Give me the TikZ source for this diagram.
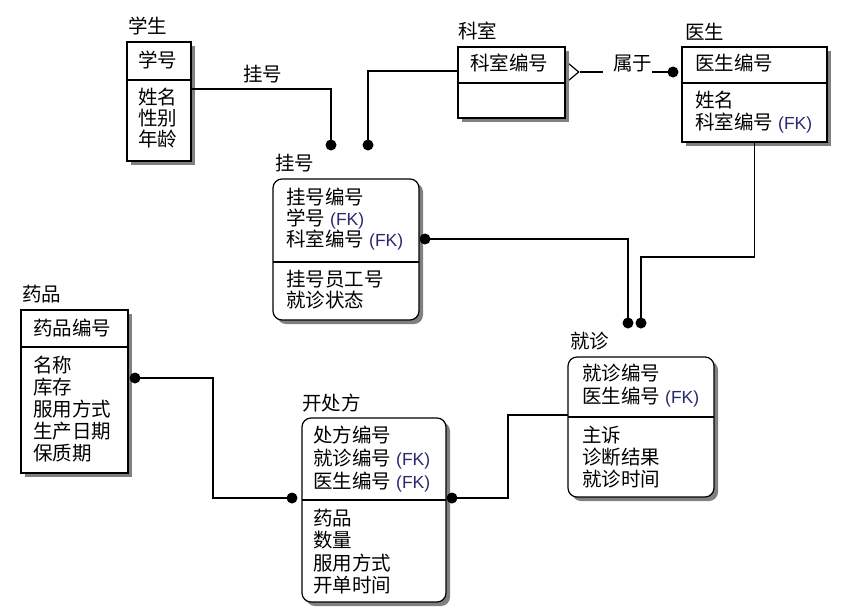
\documentclass[tikz,border=0pt]{standalone}
\usepackage{fontspec}
\newfontfamily\cjkf{Noto Sans CJK SC}
\newfontfamily\latf{Liberation Sans}
\usetikzlibrary{shadows,shapes.geometric}
\definecolor{fkc}{RGB}{40,40,110}
\newcommand\FKmark{\hspace{5pt}{\latf\fontsize{17.5}{19}\selectfont\color{fkc}(FK)}}
\begin{document}
\begin{tikzpicture}[x=1pt,y=-1pt,
  box/.style={draw, line width=1.2pt, fill=white, inner sep=0pt, outer sep=0pt, anchor=north west,
    drop shadow={shadow xshift=4pt, shadow yshift=-4pt, fill=black!50, opacity=1}},
  rbox/.style={box, rounded corners=9pt},
  txt/.style={font=\cjkf\fontsize{19.5}{22}\selectfont, inner sep=0pt, anchor=west, text height=17pt, text depth=3pt},
  dot/.style={circle, fill=black, inner sep=0pt, minimum size=11pt},
  conn/.style={line width=1.2pt},
  divl/.style={line width=1.2pt}]
\useasboundingbox[fill=white] (0,0) rectangle (843,614);

% diamond (partly hidden behind the 科室 box)
\node[draw, diamond, fill=white, line width=1.2pt, minimum width=24pt, minimum height=20pt, inner sep=0pt] (kd) at (567,72) {};

% boxes
\node[box, minimum width=64pt, minimum height=119pt] (xs) at (127,42) {};
\node[box, minimum width=107pt, minimum height=71pt] (ks) at (458,47) {};
\node[box, minimum width=145pt, minimum height=95pt] (ys) at (682,47) {};
\node[rbox, minimum width=146pt, minimum height=141pt] (gh) at (273,179) {};
\node[box, minimum width=107pt, minimum height=163pt] (yp) at (21,310) {};
\node[rbox, minimum width=144pt, minimum height=184pt] (kcf) at (302,418) {};
\node[rbox, minimum width=146pt, minimum height=140pt] (jz) at (568,357) {};

% dividers
\draw[divl] (127,80) -- (191,80);
\draw[divl] (458,83) -- (565,83);
\draw[divl] (682,83) -- (827,83);
\draw[divl] (273,262) -- (419,262);
\draw[divl] (21,347) -- (128,347);
\draw[divl] (302,500) -- (446,500);
\draw[divl] (568,417) -- (714,417);

% titles
\node[txt] (t1) at (128,26) {学生};
\node[txt] (t2) at (458,31) {科室};
\node[txt] (t3) at (685,32) {医生};
\node[txt] (t4) at (275,163) {挂号};
\node[txt] (t5) at (22,294) {药品};
\node[txt] (t6) at (302,403) {开处方};
\node[txt] (t7) at (570,341) {就诊};

% 学生
\node[txt] (xs1) at (138,60) {学号};
\node[txt] (xs2) at (138,97) {姓名};
\node[txt] (xs3) at (138,118) {性别};
\node[txt] (xs4) at (138,139) {年龄};
% 科室
\node[txt] (ks1) at (470,63) {科室编号};
% 医生
\node[txt] (ys1) at (695,63) {医生编号};
\node[txt] (ys2) at (695,100) {姓名};
\node[txt] (ys3) at (695,122) {科室编号\FKmark};
% 挂号
\node[txt] (gh1) at (286,197) {挂号编号};
\node[txt] (gh2) at (286,218) {学号\FKmark};
\node[txt] (gh3) at (286,239) {科室编号\FKmark};
\node[txt] (gh4) at (286,279) {挂号员工号};
\node[txt] (gh5) at (286,300) {就诊状态};
% 药品
\node[txt] (yp1) at (33,328) {药品编号};
\node[txt] (yp2) at (33,365) {名称};
\node[txt] (yp3) at (33,387) {库存};
\node[txt] (yp4) at (33,409) {服用方式};
\node[txt] (yp5) at (33,431) {生产日期};
\node[txt] (yp6) at (33,453) {保质期};
% 开处方
\node[txt] (kc1) at (313,435) {处方编号};
\node[txt] (kc2) at (313,458) {就诊编号\FKmark};
\node[txt] (kc3) at (313,481) {医生编号\FKmark};
\node[txt] (kc4) at (313,518) {药品};
\node[txt] (kc5) at (313,540) {数量};
\node[txt] (kc6) at (313,563) {服用方式};
\node[txt] (kc7) at (313,585) {开单时间};
% 就诊
\node[txt] (jz1) at (582,373) {就诊编号};
\node[txt] (jz2) at (582,396) {医生编号\FKmark};
\node[txt] (jz3) at (582,435) {主诉};
\node[txt] (jz4) at (582,457) {诊断结果};
\node[txt] (jz5) at (582,479) {就诊时间};

% dots
\coordinate (c1) at (331,145);
\coordinate (c2) at (368,145);
\coordinate (c3) at (673,72);
\coordinate (c4) at (425,239);
\coordinate (c5) at (628,323);
\coordinate (c6) at (641,323);
\coordinate (c7) at (135,378);
\coordinate (c8) at (292,498);
\coordinate (c9) at (452,498);

% connectors
\draw[conn] ([yshift=-47pt]xs.north east) -| (c1);
\draw[conn] ([yshift=-24pt]ks.north west) -| (c2);
\draw[conn] (kd.east) -- (c3);
\draw[conn] (c4) -| (c5);
\draw[conn] (ys.south) -- ++(0,115) -| (c6);
\draw[conn] (c7) -- (213,378) |- (c8);
\draw[conn] (c9) -- (508,498) |- ([yshift=-58pt]jz.north west);

\node[dot] (d1) at (c1) {};
\node[dot] (d2) at (c2) {};
\node[dot] (d3) at (c3) {};
\node[dot] (d4) at (c4) {};
\node[dot] (d5) at (c5) {};
\node[dot] (d6) at (c6) {};
\node[dot] (d7) at (c7) {};
\node[dot] (d8) at (c8) {};
\node[dot] (d9) at (c9) {};

% labels
\node[txt] (lb1) at (243,74) {挂号};
\node[txt, fill=white] (lb2) at (603,63) {\hspace{10pt}属于};
\end{tikzpicture}
\end{document}
